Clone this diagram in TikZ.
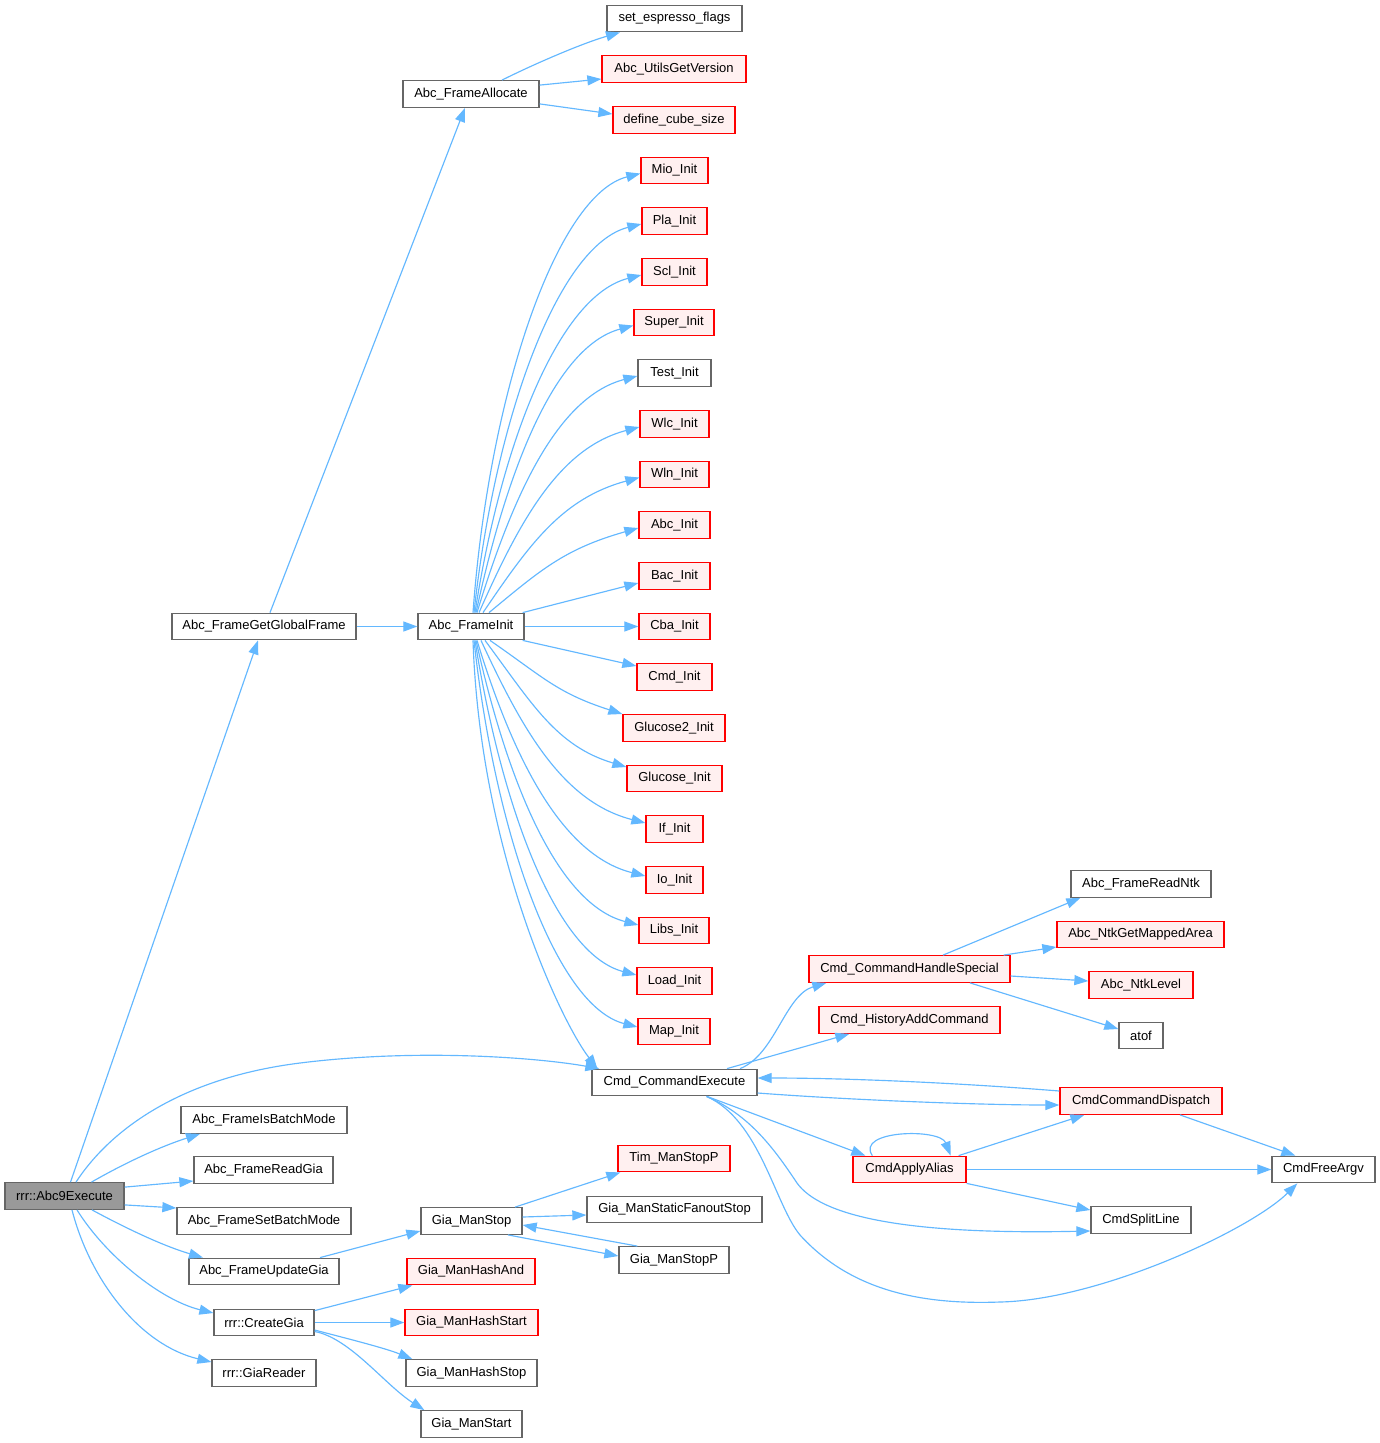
\documentclass[tikz,border=0pt]{standalone}
\usepackage{fontspec}
\setmainfont{Liberation Sans}
\usetikzlibrary{arrows.meta}
\definecolor{edgeblue}{HTML}{63B8FF}
\definecolor{boxgray}{HTML}{666666}
\definecolor{boxred}{HTML}{FF0000}
\definecolor{redfill}{HTML}{FFF0F0}
\definecolor{rootgray}{HTML}{999999}
\tikzset{
  box/.style={draw=boxgray, line width=1.3pt, fill=white, minimum height=26.5pt, inner sep=0pt, font=\fontsize{13}{15}\selectfont},
  redbox/.style={box, draw=boxred, fill=redfill},
  rootbox/.style={box, fill=rootgray},
  edge/.style={draw=edgeblue, line width=1.15pt, -{Triangle[length=14pt,width=10pt]}},
}
\begin{document}
\begin{tikzpicture}[x=1pt,y=-1pt]
\fill[white] (0,0) rectangle (1380,1443);
\useasboundingbox (0,0) rectangle (1380,1443);
% nodes
\node[rootbox, minimum width=119pt] (root) at (64.5,1196) {rrr::Abc9Execute};
\node[box, minimum width=184pt] (gg) at (264,626.5) {Abc\_FrameGetGlobalFrame};
\node[box, minimum width=166pt] (isb) at (264,1120) {Abc\_FrameIsBatchMode};
\node[box, minimum width=139pt] (rg) at (263.5,1170) {Abc\_FrameReadGia};
\node[box, minimum width=174pt] (sbm) at (264,1221) {Abc\_FrameSetBatchMode};
\node[box, minimum width=150pt] (ug) at (264,1271.5) {Abc\_FrameUpdateGia};
\node[box, minimum width=100pt] (cg) at (264,1322.5) {rrr::CreateGia};
\node[box, minimum width=104pt] (gr) at (264,1373) {rrr::GiaReader};
\node[box, minimum width=136pt] (fa) at (471,94) {Abc\_FrameAllocate};
\node[box, minimum width=106pt] (fi) at (471,626.5) {Abc\_FrameInit};
\node[box, minimum width=101pt] (gms) at (471.5,1221) {Gia\_ManStop};
\node[redbox, minimum width=128pt] (gha) at (471,1271.5) {Gia\_ManHashAnd};
\node[redbox, minimum width=133pt] (ghs) at (471.5,1322.5) {Gia\_ManHashStart};
\node[box, minimum width=131pt] (ghst) at (471.5,1373) {Gia\_ManHashStop};
\node[box, minimum width=101pt] (gmst) at (471.5,1424) {Gia\_ManStart};
\node[box, minimum width=135pt] (sef) at (674.5,18.5) {set\_espresso\_flags};
\node[redbox, minimum width=144pt] (ugv) at (674,69) {Abc\_UtilsGetVersion};
\node[redbox, minimum width=122pt] (dcs) at (674,120) {define\_cube\_size};
\node[redbox, minimum width=67pt] (mio) at (674.5,170.5) {Mio\_Init};
\node[redbox, minimum width=65pt] (pla) at (674.5,221) {Pla\_Init};
\node[redbox, minimum width=65pt] (scl) at (674.5,272) {Scl\_Init};
\node[redbox, minimum width=80pt] (super) at (674,322.5) {Super\_Init};
\node[box, minimum width=73pt] (test) at (674.5,373) {Test\_Init};
\node[redbox, minimum width=69pt] (wlc) at (674.5,424) {Wlc\_Init};
\node[redbox, minimum width=69pt] (wln) at (674.5,474.5) {Wln\_Init};
\node[redbox, minimum width=71pt] (abc) at (674.5,525) {Abc\_Init};
\node[redbox, minimum width=71pt] (bac) at (674.5,576) {Bac\_Init};
\node[redbox, minimum width=71pt] (cba) at (674.5,626.5) {Cba\_Init};
\node[redbox, minimum width=75pt] (cmdi) at (674.5,677) {Cmd\_Init};
\node[redbox, minimum width=102pt] (g2) at (674,728) {Glucose2\_Init};
\node[redbox, minimum width=95pt] (g1) at (674.5,778.5) {Glucose\_Init};
\node[redbox, minimum width=57pt] (ifi) at (674.5,829) {If\_Init};
\node[redbox, minimum width=57pt] (io) at (674.5,880) {Io\_Init};
\node[redbox, minimum width=70pt] (libs) at (674,930.5) {Libs\_Init};
\node[redbox, minimum width=75pt] (load) at (674.5,981) {Load\_Init};
\node[redbox, minimum width=72pt] (map) at (674,1031.5) {Map\_Init};
\node[box, minimum width=165pt] (cce) at (674.5,1082.5) {Cmd\_CommandExecute};
\node[redbox, minimum width=112pt] (tim) at (674,1158.5) {Tim\_ManStopP};
\node[box, minimum width=175pt] (gsfs) at (674.5,1209.5) {Gia\_ManStaticFanoutStop};
\node[box, minimum width=110pt] (gmsp) at (674,1260) {Gia\_ManStopP};
\node[redbox, minimum width=201pt] (chs) at (909.5,969) {Cmd\_CommandHandleSpecial};
\node[redbox, minimum width=181pt] (hac) at (909.5,1020) {Cmd\_HistoryAddCommand};
\node[redbox, minimum width=113pt] (caa) at (909.5,1169.5) {CmdApplyAlias};
\node[box, minimum width=140pt] (frn) at (1141,884) {Abc\_FrameReadNtk};
\node[redbox, minimum width=167pt] (nma) at (1140.5,934.5) {Abc\_NtkGetMappedArea};
\node[redbox, minimum width=104pt] (nl) at (1141,985) {Abc\_NtkLevel};
\node[box, minimum width=44pt] (atof) at (1141,1035.5) {atof};
\node[redbox, minimum width=162pt] (ccd) at (1141,1101) {CmdCommandDispatch};
\node[box, minimum width=100pt] (csl) at (1141,1220) {CmdSplitLine};
\node[box, minimum width=103pt] (cfa) at (1323.5,1169.5) {CmdFreeArgv};
% root edges
\draw[edge] ([xshift=6pt]root.north) -- ([xshift=-6pt]gg.south);
\draw[edge] ([xshift=11.5pt]root.north) .. controls (110,1130) and (180,1078) .. (300,1063) .. controls (420,1048) and (540,1058) .. ([xshift=8pt]cce.north west);
\draw[edge] ([xshift=27pt]root.north) .. controls (130,1160) and (165,1145) .. ([xshift=-64pt]isb.south);
\draw[edge] ([yshift=-5pt]root.north east) -- ([yshift=-11pt]rg.west);
\draw[edge] ([yshift=5pt]root.south east) -- ([yshift=13pt]sbm.west);
\draw[edge] ([xshift=27.5pt]root.south) .. controls (120,1225) and (160,1245) .. ([xshift=-61pt]ug.north);
\draw[edge] ([xshift=12.5pt]root.south) .. controls (105,1255) and (160,1300) .. ([yshift=9.5pt]cg.west);
\draw[edge] ([xshift=7.5pt]root.south) .. controls (90,1280) and (140,1345) .. ([yshift=11pt]gr.west);
% global frame
\draw[edge] ([xshift=6pt]gg.north) -- ([xshift=-6pt]fa.south);
\draw[edge] (gg.east) -- (fi.west);
% frame allocate
\draw[edge] ([xshift=31pt]fa.north) .. controls (530,66) and (580,44) .. ([xshift=-54.5pt]sef.south);
\draw[edge] ([yshift=-5pt]fa.north east) -- ([yshift=-10pt]ugv.west);
\draw[edge] ([yshift=4pt]fa.south east) -- ([yshift=6pt]dcs.west);
% frame init upper fan
\draw[edge] ([xshift=2pt]fi.north) .. controls (489,393) and (557,194.5) .. ([yshift=-3pt]mio.west);
\draw[edge] ([xshift=3pt]fi.north) .. controls (495,418.5) and (558,245) .. ([yshift=-3pt]pla.west);
\draw[edge] ([xshift=4pt]fi.north) .. controls (501,444) and (558.5,296) .. ([yshift=-3pt]scl.west);
\draw[edge] ([xshift=5pt]fi.north) .. controls (507,469) and (555,346.5) .. ([yshift=-3pt]super.west);
\draw[edge] ([xshift=6pt]fi.north) .. controls (513,494.5) and (557.5,397) .. ([yshift=-3pt]test.west);
\draw[edge] ([xshift=8pt]fi.north) .. controls (520,520) and (559.5,448) .. ([yshift=-3pt]wlc.west);
\draw[edge] ([xshift=12pt]fi.north) .. controls (529,545) and (561.5,498.5) .. ([yshift=-3pt]wln.west);
\draw[edge] ([xshift=18pt]fi.north) .. controls (540,570.5) and (564,549) .. ([yshift=-3pt]abc.west);
\draw[edge] ([xshift=-2pt]fi.north east) -- ([yshift=-7pt]bac.west);
\draw[edge] (fi.east) -- (cba.west);
\draw[edge] ([xshift=-2pt]fi.south east) -- ([yshift=11pt]cmdi.west);
% frame init lower fan
\draw[edge] ([xshift=19pt]fi.south) .. controls (543,677) and (557,693) .. ([yshift=14pt]g2.west);
\draw[edge] ([xshift=14pt]fi.south) .. controls (532,703.5) and (556,746) .. ([yshift=11.5pt]g1.west);
\draw[edge] ([xshift=10pt]fi.south) .. controls (523,731.5) and (563.5,802) .. ([yshift=6pt]ifi.west);
\draw[edge] ([xshift=6pt]fi.south) .. controls (513,758) and (561.5,855) .. ([yshift=4pt]io.west);
\draw[edge] ([xshift=5pt]fi.south) .. controls (507.5,782.5) and (557.5,904) .. ([yshift=5.5pt]libs.west);
\draw[edge] ([xshift=4pt]fi.south) .. controls (501.5,807.5) and (556,954) .. ([yshift=6pt]load.west);
\draw[edge] ([xshift=3pt]fi.south) .. controls (495,833.5) and (556,1006) .. ([yshift=4.5pt]map.west);
\draw[edge] ([xshift=2pt]fi.south) .. controls (480,850) and (560,1020) .. ([xshift=6pt]cce.north west);
% gia
\draw[edge] ([xshift=56pt]ug.north) -- ([yshift=-10pt]gms.west);
\draw[edge] ([xshift=43.5pt]gms.north) -- ([xshift=3pt]tim.south west);
\draw[edge] ([yshift=4pt]gms.east) -- ([yshift=-5.5pt]gsfs.west);
\draw[edge] ([xshift=36.5pt]gms.south) -- ([yshift=4pt]gmsp.west);
\draw[edge] ([xshift=19pt]gmsp.north west) -- ([yshift=-4pt]gms.east);
\draw[edge] ([yshift=-2pt]cg.north east) -- ([xshift=6pt]gha.south west);
\draw[edge] (cg.east) -- (ghs.west);
\draw[edge] ([yshift=-7.5pt]cg.east) .. controls (345,1338) and (385,1348) .. ([xshift=7pt]ghst.north west);
\draw[edge] ([yshift=-9pt]cg.east) .. controls (350,1338) and (385,1385) .. ([xshift=4pt]gmst.north west);
% command execute
\draw[edge] ([xshift=65.5pt]cce.north) .. controls (775,1055) and (785,995) .. ([xshift=18pt]chs.south west);
\draw[edge] ([xshift=52.5pt]cce.north) -- ([xshift=31pt]hac.south west);
\draw[edge] ([yshift=-10.5pt]cce.east) .. controls (850,1100) and (980,1105) .. ([yshift=-4pt]ccd.west);
\draw[edge] ([yshift=10pt]ccd.west) .. controls (960,1083) and (850,1078) .. ([yshift=4.5pt]cce.east);
\draw[edge] ([xshift=32.5pt]cce.south) -- ([xshift=13pt]caa.north west);
\draw[edge] ([xshift=32pt]cce.south) .. controls (750,1115) and (775,1150) .. (797,1183) .. controls (820,1215) and (900,1235) .. ([yshift=-11pt]csl.west);
\draw[edge] ([xshift=32pt]cce.south) .. controls (760,1120) and (775,1205) .. (800,1235) .. controls (850,1290) and (920,1305) .. (1000,1302) .. controls (1100,1300) and (1250,1230) .. ([xshift=26pt]cfa.south west);
% apply alias
\draw[edge] ([xshift=20pt]caa.north west) .. controls (855,1130) and (940,1128) .. ([xshift=-16pt]caa.north east);
\draw[edge] ([xshift=-8pt]caa.north east) -- ([xshift=25pt]ccd.south west);
\draw[edge] (caa.east) -- (cfa.west);
\draw[edge] (caa.south east) -- ([yshift=10pt]csl.west);
\draw[edge] ([xshift=39pt]ccd.south) -- ([xshift=24pt]cfa.north west);
% handle special
\draw[edge] ([xshift=33.5pt]chs.north) -- ([xshift=10pt]frn.south west);
\draw[edge] ([xshift=-7pt]chs.north east) -- ([yshift=-12.5pt]nma.west);
\draw[edge] ([yshift=-7pt]chs.east) -- ([yshift=4pt]nl.west);
\draw[edge] ([xshift=60.5pt]chs.south) -- ([yshift=6.5pt]atof.west);
\end{tikzpicture}
\end{document}
